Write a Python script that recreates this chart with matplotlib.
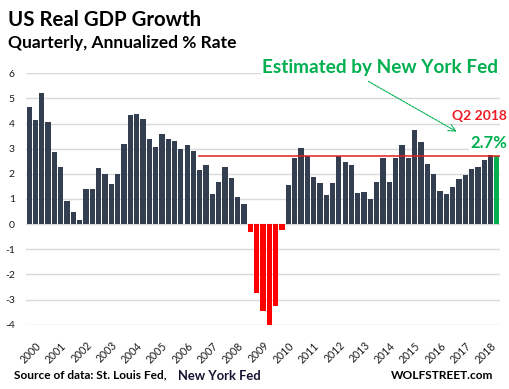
import matplotlib
matplotlib.use("Agg")
import matplotlib.pyplot as plt
import numpy as np

# Data: quarterly real GDP growth, 1999Q4 .. 2018Q2 (last = NY Fed estimate)
growth = [4.66, 4.14, 5.22, 4.06, 2.87, 2.27, 0.92, 0.48, 0.16, 1.39,
          1.39, 2.23, 1.99, 1.59, 1.99, 3.19, 4.34, 4.38, 4.18, 3.39,
          3.07, 3.59, 3.39, 3.31, 2.99, 3.15, 2.91, 2.15, 2.35, 1.20,
          1.67, 2.27, 1.83, 1.08, 0.80, -0.32, -2.75, -3.45, -4.01, -3.25,
          -0.23, 1.55, 2.64, 3.03, 2.71, 1.87, 1.63, 1.16, 1.63, 2.71,
          2.47, 2.35, 1.24, 1.27, 1.00, 1.67, 2.64, 1.67, 2.64, 3.15,
          2.64, 3.75, 3.27, 2.39, 1.99, 1.31, 1.20, 1.47, 1.79, 1.95,
          2.19, 2.27, 2.55, 2.75, 2.70]
years = list(range(2000, 2019))
year_first_index = 1          # 2000Q1 is the second bar
estimate_label = "2.7%"
yticks = list(range(-4, 7))

W, H = 510, 389
fig = plt.figure(figsize=(W / 100, H / 100), dpi=100)
FONT = "Lato"
plt.rcParams['font.family'] = [FONT, 'DejaVu Sans']

def fx(x):
    return x / W

def fy(y):
    return 1 - y / H

left, right, top, bottom = 26, 500, 73.3, 324.7
ax = fig.add_axes([fx(left), fy(bottom), fx(right) - fx(left), fy(top) - fy(bottom)])

n = len(growth)
x = np.arange(n)
colors = []
for i, v in enumerate(growth):
    if i == n - 1:
        colors.append("#00B050")
    elif v < 0:
        colors.append("#FF0000")
    else:
        colors.append("#343E51")
ax.bar(x, growth, width=0.83, color=colors, zorder=3)

ax.set_xlim(-0.5, n - 0.5)
ax.set_ylim(-4, 6)
ax.set_yticks(yticks)
ax.set_yticklabels([str(t) for t in yticks], fontsize=7.5, color="#1a1a1a")
ax.tick_params(axis='y', length=0, pad=8)
for t in yticks:
    ax.axhline(t, color="#D9D9D9", lw=1.0, zorder=1)

ticks = [year_first_index + 4 * k for k in range(len(years))]
ax.set_xticks(ticks)
ax.set_xticklabels([str(y) for y in years], rotation=45, ha='right',
                   rotation_mode='anchor', fontsize=7.6, color="#1a1a1a")
ax.tick_params(axis='x', length=0, pad=11)
for s in ax.spines.values():
    s.set_visible(False)

# horizontal reference line at the estimate level
ax.plot([26.9, n - 0.5], [growth[-1], growth[-1]], color="#E0201E", lw=1.1, zorder=4)

# Titles
fig.text(fx(8), fy(26), "US Real GDP Growth", fontsize=14.7, fontweight='bold',
         va='baseline', ha='left', color="black")
fig.text(fx(8), fy(48.3), "Quarterly, Annualized % Rate", fontsize=12.5, fontweight='bold',
         va='baseline', ha='left', color="black")

# annotations
green = "#00B050"
fig.text(fx(262), fy(73), "Estimated by New York Fed", fontsize=13.7, fontweight='bold',
         va='baseline', ha='left', color=green,
         bbox=dict(facecolor='white', edgecolor='none', pad=1))
fig.text(fx(507), fy(120), "Q2 2018", fontsize=10, fontweight='bold',
         va='baseline', ha='right', color="#EE1C25",
         bbox=dict(facecolor='white', edgecolor='none', pad=1))
fig.text(fx(507), fy(147.7), estimate_label, fontsize=12, fontweight='bold',
         va='baseline', ha='right', color=green,
         bbox=dict(facecolor='white', edgecolor='none', pad=1))
fig.add_artist(matplotlib.patches.FancyArrowPatch(
    (fx(366), fy(80)), (fx(459), fy(133)), transform=fig.transFigure,
    arrowstyle='->,head_length=5,head_width=2.5', color=green, lw=0.8,
    linestyle=(0, (2, 1)), zorder=6))

# footer
fig.text(fx(14), fy(378.7), "Source of data: St. Louis Fed,", fontsize=8.6, fontweight='bold',
         va='baseline', ha='left', color="black")
fig.text(fx(178), fy(380), "New York Fed", fontsize=9.4, fontweight='bold',
         va='baseline', ha='left', color="#141432")
fig.text(fx(493), fy(379.3), "WOLFSTREET.com", fontsize=8.6, fontweight='bold',
         va='baseline', ha='right', color="black")

fig.savefig("out.png", dpi=100)
